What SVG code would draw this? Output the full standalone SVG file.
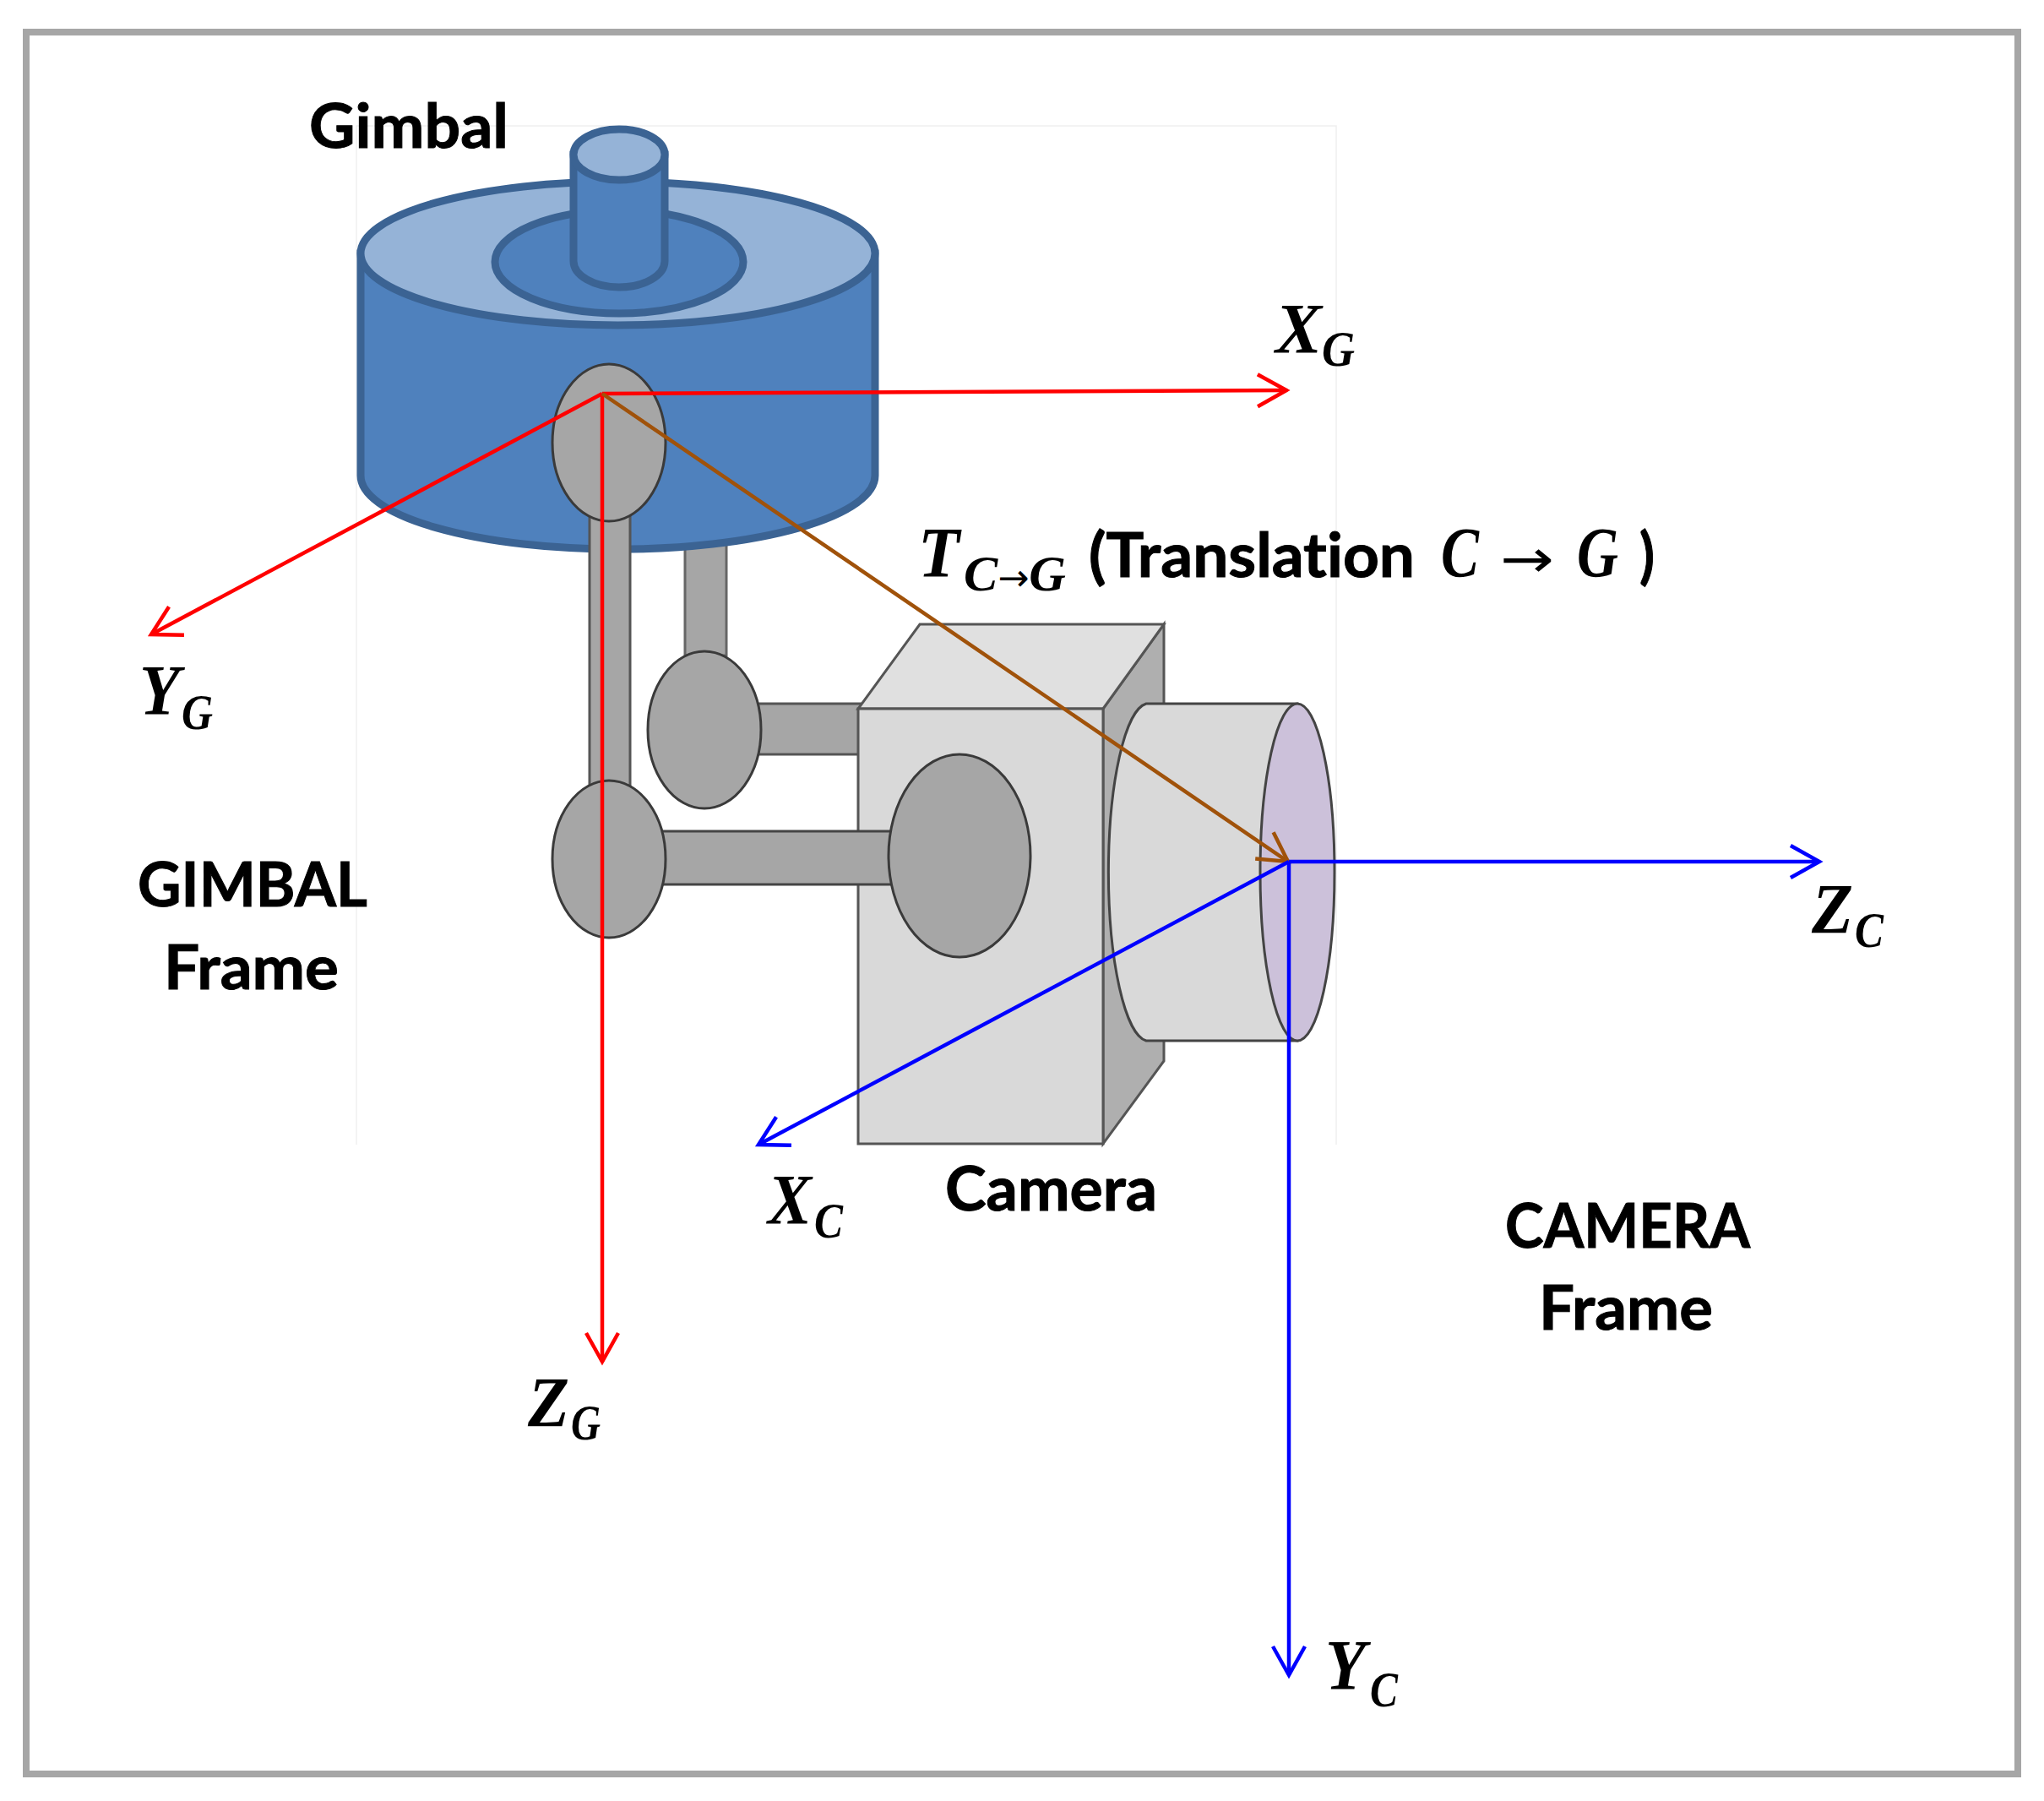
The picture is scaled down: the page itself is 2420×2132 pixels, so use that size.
<svg xmlns="http://www.w3.org/2000/svg" width="2420" height="2132" viewBox="0 0 2420 2132">
<defs>
<style>
.g{stroke:#3b6393;stroke-width:9;fill:#4f81bd}
.gl{stroke:#3b6393;stroke-width:9;fill:#95b3d7}
.j{fill:#a6a6a6;stroke:#3a3a3a;stroke-width:3}
.s{fill:#a6a6a6;stroke:#555;stroke-width:3}
.c{stroke:#555;stroke-width:3}
.t{font-family:Lato,"Open Sans",sans-serif;font-weight:700;font-size:72px;fill:#000;stroke:#000;stroke-width:1;font-variant-ligatures:none}
.m{font-family:"Liberation Serif",serif;font-weight:700;font-style:italic;font-size:84px;fill:#000}
.n{font-family:"Liberation Serif",serif;font-weight:700;font-style:italic;font-size:60px;fill:#000}
.a{fill:none;stroke-width:4.5}
</style>
<marker id="hr" markerUnits="userSpaceOnUse" markerWidth="60" markerHeight="60" refX="50" refY="30" orient="auto" overflow="visible"><path d="M16,11 L50,30 L16,49" fill="none" stroke="#ff0000" stroke-width="4.5"/></marker>
<marker id="hb" markerUnits="userSpaceOnUse" markerWidth="60" markerHeight="60" refX="50" refY="30" orient="auto" overflow="visible"><path d="M16,11 L50,30 L16,49" fill="none" stroke="#0000ff" stroke-width="4.5"/></marker>
<marker id="hn" markerUnits="userSpaceOnUse" markerWidth="60" markerHeight="60" refX="50" refY="30" orient="auto" overflow="visible"><path d="M16,11 L50,30 L16,49" fill="none" stroke="#a0520a" stroke-width="4.5"/></marker>
</defs>
<rect width="2420" height="2132" fill="#fff"/>
<rect id="border" x="31" y="38" width="2358" height="2062" fill="none" stroke="#a6a6a6" stroke-width="8"/>
<path id="faint-box" d="M422,1355 V149 H1582 V1355" fill="none" stroke="#f0f0f0" stroke-width="1.5"/>

<g id="gimbal">
<rect class="s" x="811" y="640" width="49" height="136" style="stroke:#666"/>
<path class="g" d="M427,300 V563 A304,87 0 0 0 1036,563 V300 Z"/>
<ellipse class="gl" cx="731.500" cy="300" rx="304.500" ry="85"/>
<ellipse class="g" cx="733" cy="310" rx="147" ry="61"/>
<path class="g" d="M679,183 V309 A54,31 0 0 0 787,309 V183 Z"/>
<ellipse class="gl" cx="733" cy="183" rx="54" ry="30"/>
</g>

<g id="arm">
<rect class="s" x="698" y="610" width="48" height="320"/>
<rect class="s" x="895" y="833" width="125" height="60"/>
<ellipse class="j" cx="721" cy="524" rx="67" ry="93"/>
<ellipse class="j" cx="834" cy="864" rx="67" ry="93"/>
</g>

<g id="camera">
<polygon class="c" points="1306,839 1378,739 1378,1256 1306,1354" fill="#afafaf"/>
<polygon class="c" points="1016,839 1089,739 1378,739 1306,839" fill="#e0e0e0"/>
<rect class="c" x="1016" y="839" width="290" height="515" fill="#d9d9d9"/>
<path d="M1536,833 H1357 A48,200 0 0 0 1357,1232 H1536 Z" fill="#d9d9d9" stroke="#444" stroke-width="3"/>
<ellipse cx="1536" cy="1032.500" rx="44" ry="199.500" fill="#ccc1da" stroke="#444" stroke-width="3"/>
<rect class="s" x="780" y="984" width="280" height="63" style="stroke:#444"/>
<ellipse class="j" cx="721" cy="1017" rx="67" ry="93"/>
<ellipse class="j" cx="1136" cy="1013" rx="84" ry="120"/>
</g>

<g id="connectors">
<g class="a" stroke="#ff0000">
<path d="M713,466 L1523,462" marker-end="url(#hr)"/>
<path d="M713,466 L179,751" marker-end="url(#hr)"/>
<path d="M713,466 V1612" marker-end="url(#hr)"/>
</g>
<path class="a" stroke="#a0520a" d="M713,466 L1525,1020" marker-end="url(#hn)"/>
<g class="a" stroke="#0000ff">
<path d="M1526,1020 H2154" marker-end="url(#hb)"/>
<path d="M1526,1020 L898,1355" marker-end="url(#hb)"/>
<path d="M1526,1020 V1983" marker-end="url(#hb)"/>
</g>
</g>

<g id="labels">
<text class="t" x="366" y="175" textLength="236" lengthAdjust="spacingAndGlyphs">Gimbal</text>
<text class="t" x="163" y="1073" textLength="272" lengthAdjust="spacingAndGlyphs">GIMBAL</text>
<text class="t" x="194" y="1171" textLength="207" lengthAdjust="spacingAndGlyphs">Frame</text>
<text class="t" x="1119" y="1433" textLength="251" lengthAdjust="spacingAndGlyphs">Camera</text>
<text class="t" x="1782" y="1477" textLength="290" lengthAdjust="spacingAndGlyphs">CAMERA</text>
<text class="t" x="1822" y="1574" textLength="206" lengthAdjust="spacingAndGlyphs">Frame</text>
<text class="t" x="1289" y="683" textLength="386" lengthAdjust="spacingAndGlyphs">(Translation</text>
<text class="t" x="1941" y="683" textLength="18" lengthAdjust="spacingAndGlyphs">)</text>
<text class="m" x="1087" y="683" textLength="49" lengthAdjust="spacingAndGlyphs">T</text>
<text class="n" x="1141" y="699" textLength="121" lengthAdjust="spacingAndGlyphs">C<tspan style="font-style:normal;font-weight:400;font-family:'DejaVu Sans',sans-serif;font-size:44px">→</tspan>G</text>
<text class="m" x="1706" y="683" textLength="45" lengthAdjust="spacingAndGlyphs">C</text>
<text class="m" x="1776" y="683" textLength="64" lengthAdjust="spacingAndGlyphs" style="font-style:normal;font-weight:400;font-family:'DejaVu Sans',sans-serif;font-size:62px">→</text>
<text class="m" x="1867" y="683" textLength="49" lengthAdjust="spacingAndGlyphs">G</text>
<text class="m" x="1510" y="418" textLength="55" lengthAdjust="spacingAndGlyphs">X</text>
<text class="n" x="1565" y="433" textLength="39" lengthAdjust="spacingAndGlyphs">G</text>
<text class="m" x="165" y="846" textLength="48" lengthAdjust="spacingAndGlyphs">Y</text>
<text class="n" x="215" y="863" textLength="37" lengthAdjust="spacingAndGlyphs">G</text>
<text class="m" x="625" y="1689" textLength="49" lengthAdjust="spacingAndGlyphs">Z</text>
<text class="n" x="676" y="1704" textLength="35" lengthAdjust="spacingAndGlyphs">G</text>
<text class="m" x="2145" y="1105" textLength="49" lengthAdjust="spacingAndGlyphs">Z</text>
<text class="n" x="2196" y="1121" textLength="34" lengthAdjust="spacingAndGlyphs">C</text>
<text class="m" x="909" y="1449" textLength="52" lengthAdjust="spacingAndGlyphs">X</text>
<text class="n" x="964" y="1465" textLength="34" lengthAdjust="spacingAndGlyphs">C</text>
<text class="m" x="1569" y="2000" textLength="48" lengthAdjust="spacingAndGlyphs">Y</text>
<text class="n" x="1622" y="2020" textLength="33" lengthAdjust="spacingAndGlyphs">C</text>
</g>
</svg>
